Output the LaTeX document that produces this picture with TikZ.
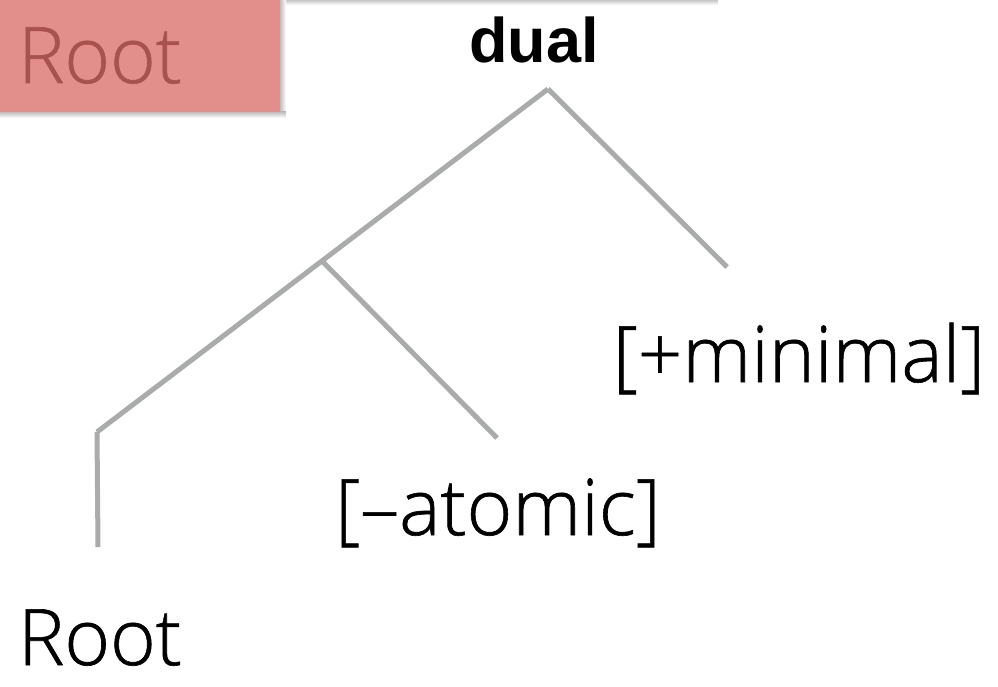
\documentclass[tikz,border=0pt]{standalone}
\usepackage{fontspec}
\newfontfamily\lightfont[FakeBold=0.8]{Open Sans Light}
\newfontfamily\boldsans{Liberation Sans}
\definecolor{branch}{HTML}{A9ACAB}
\definecolor{rootfill}{HTML}{E28E8B}
\definecolor{roottext}{HTML}{A8524E}
\tikzset{
  edge/.style={draw=branch, line width=5pt},
  lbl/.style={font=\lightfont\fontsize{78}{90}\selectfont, anchor=base, inner sep=0pt},
  head/.style={font=\boldsans\bfseries\fontsize{63}{70}\selectfont, anchor=base, inner sep=0pt},
}
\begin{document}
\begin{tikzpicture}[x=1pt,y=-1pt]
\useasboundingbox (0,0) rectangle (998,687);
% faint shadow along the top edge
\shade[top color=black!22, bottom color=white] (280,0) rectangle (718,5);
% red tag in the corner with its soft shadow
\shade[left color=black!25, right color=white] (280,0) rectangle (286,116);
\shade[top color=black!25, bottom color=white] (0,112) rectangle (286,118);
\fill[rootfill] (0,0) rectangle (280,112);
\node[lbl, text=roottext] (tag) at (100,83) {Root};

% tree
\node[head] (dual) at (534,63) {dual};
\coordinate (top) at (548,89);
\coordinate (mid) at (322,261);
\coordinate (left) at (97,432);
\coordinate (minend) at (727,267);
\coordinate (atend) at (497,438);
\coordinate (rootend) at (98,547);

\node[lbl] (minimal) at (799,382) {[+minimal]};
\node[lbl] (atomic) at (498,535) {[–atomic]};
\node[lbl] (root) at (100,665) {Root};

\draw[edge] (top) -- (minend);
\draw[edge] (top) -- (left);
\draw[edge] (mid) -- (atend);
\draw[edge] (left) -- (rootend);
\end{tikzpicture}
\end{document}
